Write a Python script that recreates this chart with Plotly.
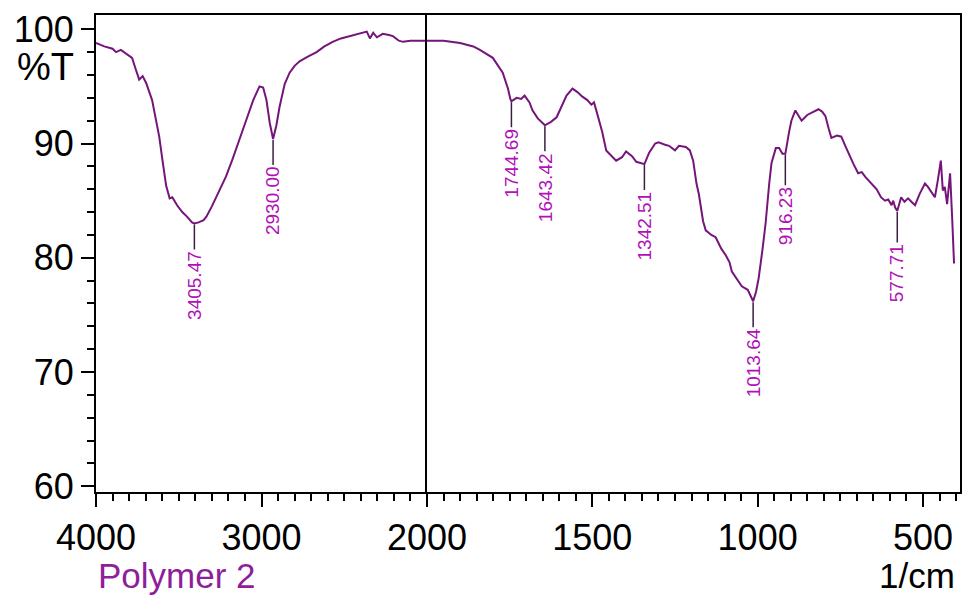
import plotly.graph_objects as go

# ---- data: wavenumber (1/cm) and transmittance (%T) ----
wn_high = [4000, 3950, 3900, 3879, 3850, 3818, 3782, 3760, 3739, 3718, 3697, 3661, 3640,
           3618, 3597, 3576, 3555, 3539, 3510, 3479, 3450, 3420, 3405.47, 3380, 3350, 3333,
           3300, 3255, 3215, 3176, 3130, 3091, 3050, 3012, 2990, 2970, 2950, 2930, 2910,
           2891, 2860, 2830, 2800, 2770, 2720, 2667, 2620, 2570, 2520, 2467, 2420, 2388,
           2364, 2345, 2325, 2303, 2267, 2230, 2206, 2170, 2145, 2100, 2050, 2000]
t_high = [98.8, 98.5, 98.3, 98.0, 98.2, 97.9, 97.5, 96.5, 95.6, 95.9, 95.3, 93.8, 92.3,
          90.6, 88.4, 86.3, 85.2, 85.3, 84.6, 84.0, 83.6, 83.1, 83.0, 83.1, 83.3, 83.6,
          84.5, 85.8, 87.1, 88.6, 90.4, 92.1, 93.8, 95.0, 94.9, 93.8, 91.8, 90.4, 91.6,
          93.2, 95.2, 96.2, 96.8, 97.2, 97.6, 98.0, 98.5, 98.9, 99.2, 99.4, 99.6, 99.7,
          99.8, 99.2, 99.7, 99.3, 99.6, 99.5, 99.4, 99.0, 98.9, 99.0, 99.0, 99.0]

wn_low = [2000, 1950, 1900, 1860, 1840, 1801, 1771, 1755, 1748, 1744.69, 1729, 1715, 1705,
          1690, 1681, 1665, 1643.42, 1625, 1608, 1590, 1578, 1560, 1545, 1530, 1515, 1503,
          1495, 1488, 1470, 1458, 1440, 1428, 1410, 1398, 1380, 1367, 1342.51, 1328, 1310,
          1300, 1280, 1268, 1250, 1238, 1217, 1205, 1195, 1185, 1178, 1165, 1157, 1140,
          1127, 1110, 1096, 1085, 1078, 1060, 1048, 1030, 1020, 1013.64, 1005, 997, 985,
          976, 965, 958, 945, 935, 925, 916.23, 905, 898, 886, 875, 867, 850, 837, 816,
          805, 795, 785, 777, 760, 747, 735, 726, 710, 696, 685, 675, 657, 640, 627, 615,
          605, 595, 590, 584, 577.71, 570, 566, 556, 545, 535, 524, 510, 494, 485, 476,
          464, 455, 446, 440, 434, 427, 418, 412, 406]
t_low = [99.0, 99.0, 98.8, 98.5, 98.2, 97.5, 96.2, 94.8, 93.9, 93.7, 94.0, 93.9, 94.2,
         93.6, 92.9, 92.2, 91.6, 91.9, 92.3, 93.4, 94.2, 94.8, 94.5, 94.1, 93.8, 93.4,
         93.6, 92.9, 91.0, 89.4, 88.8, 88.5, 88.8, 89.3, 88.9, 88.4, 88.2, 89.2, 90.0,
         90.1, 89.9, 89.8, 89.4, 89.8, 89.7, 89.4, 88.5, 86.5, 85.6, 83.2, 82.4, 82.0,
         81.8, 80.8, 80.2, 79.6, 78.8, 78.0, 77.5, 77.2, 76.6, 76.2, 77.0, 78.2, 80.8,
         83.0, 86.5, 88.3, 89.6, 89.6, 89.1, 89.1, 91.0, 92.0, 92.9, 92.3, 92.0, 92.5,
         92.7, 93.0, 92.8, 92.4, 91.3, 90.5, 90.7, 90.6, 89.8, 89.2, 88.2, 87.4, 87.5,
         87.1, 86.5, 86.0, 85.3, 85.0, 85.1, 84.6, 85.0, 84.4, 84.1, 84.8, 85.3, 84.9,
         85.2, 84.9, 84.6, 85.6, 86.5, 86.2, 85.8, 85.3, 86.8, 88.5, 85.9, 86.2, 84.7,
         87.4, 83.7, 79.5]

peak_wn = [3405.47, 2930.00, 1744.69, 1643.42, 1342.51, 1013.64, 916.23, 577.71]
peak_t = [83.0, 90.4, 93.7, 91.6, 88.2, 76.2, 89.1, 84.1]
peak_labels = ["3405.47", "2930.00", "1744.69", "1643.42", "1342.51", "1013.64", "916.23", "577.71"]

y_ticks = [60, 70, 80, 90, 100]
x_high_ticks = [4000, 3500, 3000, 2500, 2000]
x_high_text = ["4000", "", "3000", "", "2000"]
x_low_ticks = [1750, 1500, 1250, 1000, 750, 500]
x_low_text = ["", "1500", "", "1000", "", "500"]

LINE = "#75157A"
LABEL = "#B010B8"
FONT = "Liberation Sans, Arial, Helvetica, sans-serif"

fig = go.Figure()
fig.add_trace(go.Scatter(x=wn_high, y=t_high, mode="lines", line=dict(color=LINE, width=2),
                         xaxis="x", yaxis="y", showlegend=False, hoverinfo="skip"))
fig.add_trace(go.Scatter(x=wn_low, y=t_low, mode="lines", line=dict(color=LINE, width=2),
                         xaxis="x2", yaxis="y2", showlegend=False, hoverinfo="skip"))

split = (427 - 96) / 864.0
yr = [59.5, 101.25]

common_x = dict(showline=True, linecolor="black", linewidth=2, mirror=True, automargin=False,
                showgrid=False, zeroline=False, ticks="outside", ticklen=13, tickwidth=2,
                tickcolor="black", tickmode="array",
                tickfont=dict(family=FONT, size=36, color="black"))

fig.update_layout(
    template="none",
    width=964, height=597,
    margin=dict(l=96, r=4, t=15, b=105, autoexpand=False),
    paper_bgcolor="white", plot_bgcolor="white",
    font=dict(family=FONT),
    showlegend=False,
    xaxis=dict(domain=[0, split], range=[4000, 2000], anchor="y",
               tickvals=x_high_ticks, ticktext=x_high_text,
               minor=dict(tickmode="array", tickvals=list(range(4000, 1999, -100)),
                          ticks="outside", ticklen=7, tickwidth=2, tickcolor="black"),
               **common_x),
    xaxis2=dict(domain=[split, 1], range=[2000, 388], anchor="y2",
                tickvals=x_low_ticks, ticktext=x_low_text,
                minor=dict(tickmode="array", tickvals=list(range(2000, 399, -50)),
                           ticks="outside", ticklen=7, tickwidth=2, tickcolor="black"),
                **common_x),
    yaxis=dict(range=yr, anchor="x", showline=True, linecolor="black", linewidth=2,
               mirror=False, showgrid=False, zeroline=False, ticks="outside", ticklen=13,
               tickwidth=2, tickcolor="black", tickmode="array", tickvals=y_ticks,
               automargin=False,
               tickfont=dict(family=FONT, size=36, color="black"),
               minor=dict(tickmode="array", tickvals=list(range(60, 101, 2)),
                          ticks="outside", ticklen=7, tickwidth=2, tickcolor="black")),
    yaxis2=dict(range=yr, anchor="x2", showline=True, linecolor="black", linewidth=2,
                mirror=True, showgrid=False, zeroline=False, showticklabels=False, ticks="",
                automargin=False),
)

for wn, t, lab in zip(peak_wn, peak_t, peak_labels):
    fig.add_annotation(x=wn, y=t, xref="x" if wn >= 2000 else "x2",
                       yref="y" if wn >= 2000 else "y2",
                       text=lab, textangle=-90, showarrow=True, arrowhead=0,
                       arrowwidth=1.5, arrowcolor="#3a2040", ax=0, ay=62, standoff=1,
                       font=dict(family=FONT, size=19, color=LABEL))

fig.add_annotation(text="Polymer 2", xref="paper", yref="paper", x=0, y=-0.176,
                   xanchor="left", yanchor="middle", showarrow=False,
                   font=dict(family=FONT, size=35, color="#8E1E9A"))
fig.add_annotation(text="1/cm", xref="paper", yref="paper", x=0.997, y=-0.176,
                   xanchor="right", yanchor="middle", showarrow=False,
                   font=dict(family=FONT, size=35, color="black"))
fig.add_annotation(text="%T", xref="paper", yref="paper", x=-0.059, y=0.891,
                   xanchor="center", yanchor="middle", showarrow=False,
                   font=dict(family=FONT, size=38, color="black"))

fig.write_html("out.html")
